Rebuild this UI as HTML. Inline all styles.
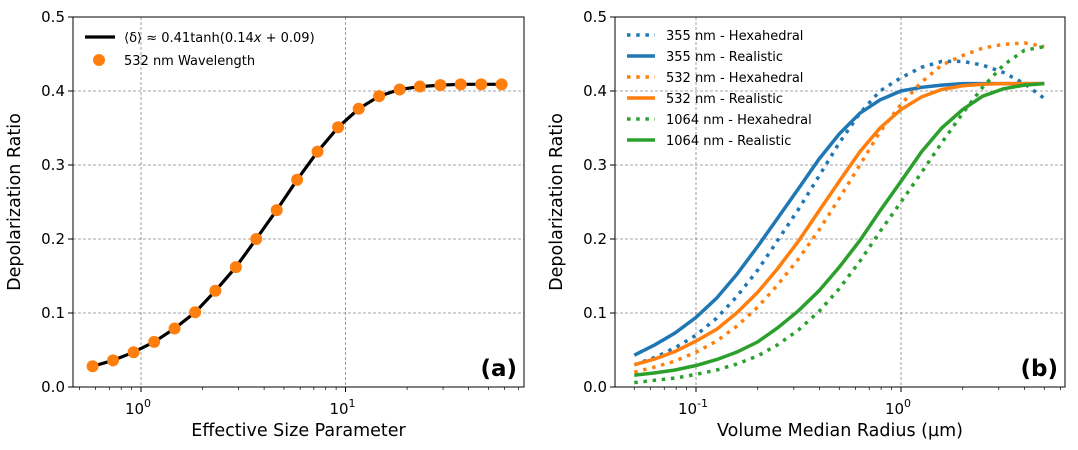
<!DOCTYPE html>
<html><head><meta charset="utf-8"><style>
html,body{margin:0;padding:0;background:#fff;}
svg{display:block;font-family:"DejaVu Sans","Liberation Sans",sans-serif;}
</style></head><body>
<svg id="c" width="1078" height="450" viewBox="0 0 1078 450"></svg>
<script>
// Left panel data
const leftX = [0.58,0.73,0.92,1.16,1.46,1.84,2.31,2.91,3.66,4.61,5.8,7.3,9.2,11.6,14.6,18.4,23.1,29.1,36.6,46.1,58];
const leftY = [0.028,0.036,0.047,0.061,0.079,0.101,0.130,0.162,0.200,0.239,0.280,0.318,0.351,0.376,0.393,0.402,0.406,0.408,0.409,0.409,0.409];
// Right panel data
const rightX = [0.05,0.063,0.079,0.1,0.126,0.158,0.2,0.25,0.316,0.398,0.5,0.63,0.79,1.0,1.26,1.58,2.0,2.5,3.16,4.0,5.0];
const hex355 = [0.030,0.040,0.053,0.070,0.093,0.122,0.158,0.198,0.240,0.285,0.330,0.370,0.400,0.418,0.432,0.440,0.440,0.435,0.425,0.410,0.390];
const real355 = [0.043,0.057,0.073,0.094,0.120,0.152,0.190,0.228,0.268,0.308,0.342,0.370,0.388,0.400,0.405,0.408,0.410,0.410,0.410,0.410,0.410];
const hex532 = [0.020,0.027,0.035,0.047,0.062,0.082,0.108,0.138,0.173,0.212,0.255,0.300,0.345,0.382,0.412,0.435,0.448,0.458,0.463,0.465,0.460];
const real532 = [0.030,0.038,0.048,0.062,0.078,0.100,0.128,0.160,0.197,0.238,0.278,0.318,0.350,0.375,0.392,0.402,0.407,0.409,0.410,0.410,0.410];
const hex1064 = [0.006,0.009,0.012,0.017,0.023,0.031,0.042,0.057,0.077,0.102,0.133,0.170,0.210,0.250,0.290,0.330,0.370,0.405,0.435,0.455,0.460];
const real1064 = [0.016,0.019,0.023,0.029,0.037,0.047,0.061,0.080,0.103,0.130,0.162,0.198,0.238,0.278,0.318,0.350,0.375,0.393,0.403,0.408,0.410];
const yTicks = [0,0.1,0.2,0.3,0.4,0.5];
const yTickLabels = ["0.0","0.1","0.2","0.3","0.4","0.5"];

const NS="http://www.w3.org/2000/svg";
const svg=document.getElementById('c');
function mk(tag,attrs,parent){const e=document.createElementNS(NS,tag);for(const k in attrs)e.setAttribute(k,attrs[k]);(parent||svg).appendChild(e);return e;}

const T=17,B=387;
function yS(v){return B-(v/0.5)*(B-T);}
const panels=[
 {L:73,R:524,x0:141,dec:204.5,d0:0,minD:-1,maxD:2,label:"Effective Size Parameter",tag:"(a)",name:"panel-a"},
 {L:615,R:1065,x0:901,dec:205,d0:0,minD:-2,maxD:1,label:"Volume Median Radius (\u00b5m)",tag:"(b)",name:"panel-b"}
];
function xS(p,v){return p.x0+Math.log10(v)*p.dec;}

panels.forEach((p,pi)=>{
 const g=mk('g',{});
 
 
 // grid
 yTicks.forEach(v=>{if(v>0&&v<0.5){const l=mk('line',{x1:p.L,x2:p.R,y1:yS(v),y2:yS(v),stroke:'#888','stroke-width':0.8,'stroke-dasharray':'3,2'},g);}});
 for(let d=p.minD;d<=p.maxD;d++){const x=p.x0+d*p.dec;if(x>p.L&&x<p.R){const l=mk('line',{x1:x,x2:x,y1:T,y2:B,stroke:'#888','stroke-width':0.8,'stroke-dasharray':'3,2'},g);}}
 // x ticks
 for(let d=p.minD;d<=p.maxD;d++){
  for(let m=1;m<10;m++){
   const x=p.x0+(d+Math.log10(m))*p.dec;
   if(x<p.L-0.5||x>p.R+0.5)continue;
   mk('line',{x1:x,x2:x,y1:B,y2:B+(m==1?5:3),stroke:'#000','stroke-width':m==1?1:0.7},g);
   if(m==1){
    const t=mk('text',{x:x-3,y:B+27,'font-size':15,'text-anchor':'middle'},g);
    t.textContent='10';
    const s=mk('tspan',{dy:-7,'font-size':11},t);s.textContent=String(d);
    
   }
  }
 }
 // y ticks
 yTicks.forEach((v,i)=>{
  mk('line',{x1:p.L-5,x2:p.L,y1:yS(v),y2:yS(v),stroke:'#000','stroke-width':1},g);
  const t=mk('text',{x:p.L-8,y:yS(v)+5,'font-size':15,'text-anchor':'end'},g);
  t.textContent=yTickLabels[i];
  
 });
 const xl=mk('text',{x:(p.L+p.R)/2,y:436,'font-size':17.5,'text-anchor':'middle'},g);
 xl.textContent=p.label;
 
 const yl=mk('text',{x:0,y:0,'font-size':17.5,'text-anchor':'middle',transform:`translate(${p.L-53},${(T+B)/2}) rotate(-90)`},g);
 yl.textContent='Depolarization Ratio';
 
 const tg=mk('text',{x:p.R-7,y:B-11,'font-size':23,'font-weight':'bold','text-anchor':'end'},g);
 tg.textContent=p.tag;
 
 p.g=g;
});

function pathD(p,xs,ys){return xs.map((x,i)=>(i?'L':'M')+xS(p,x).toFixed(1)+','+yS(ys[i]).toFixed(1)).join(' ');}

// Left panel series
const pa=panels[0];
const fit=mk('path',{d:pathD(pa,leftX,leftY),fill:'none',stroke:'#000','stroke-width':3.2},pa.g);

leftX.forEach((x,i)=>{
 const c=mk('circle',{cx:xS(pa,x),cy:yS(leftY[i]),r:6,fill:'#ff7f0e'},pa.g);
 
});

// Right panel series
const pb=panels[1];
const series=[
 {ys:hex355,c:'#1f77b4',dash:true,n:'355 nm - Hexahedral'},
 {ys:real355,c:'#1f77b4',dash:false,n:'355 nm - Realistic'},
 {ys:hex532,c:'#ff7f0e',dash:true,n:'532 nm - Hexahedral'},
 {ys:real532,c:'#ff7f0e',dash:false,n:'532 nm - Realistic'},
 {ys:hex1064,c:'#2ca02c',dash:true,n:'1064 nm - Hexahedral'},
 {ys:real1064,c:'#2ca02c',dash:false,n:'1064 nm - Realistic'}
];
series.forEach((s,i)=>{
 const a={d:pathD(pb,rightX,s.ys),fill:'none',stroke:s.c,'stroke-width':3.5};
 if(s.dash)a['stroke-dasharray']='3.5,5.7';
 const l=mk('path',a,pb.g);
 
 // legend
 const ly=35+i*21;
 const la={x1:627,x2:655,y1:ly,y2:ly,stroke:s.c,'stroke-width':3.5};
 if(s.dash)la['stroke-dasharray']='3.5,5.7';
 const ll=mk('line',la,pb.g);
 
 const lt=mk('text',{x:666,y:ly+5,'font-size':13},pb.g);
 lt.textContent=s.n;
 
});

// Left legend
const l1=mk('line',{x1:85,x2:115,y1:37,y2:37,stroke:'#000','stroke-width':3.2},pa.g);

const t1=mk('text',{x:124,y:42,'font-size':13},pa.g);
t1.textContent='\u27e8\u03b4\u27e9 \u2248 0.41tanh(0.14';
const ti=mk('tspan',{'font-style':'italic'},t1);ti.textContent='x';
const tr=mk('tspan',{},t1);tr.textContent=' + 0.09)';

const c1=mk('circle',{cx:99,cy:60,r:6,fill:'#ff7f0e'},pa.g);

const t2=mk('text',{x:124,y:65,'font-size':13},pa.g);
t2.textContent='532 nm Wavelength';


// frames
panels.forEach(p=>{
 const r=mk('rect',{x:p.L,y:T,width:p.R-p.L,height:B-T,fill:'none',stroke:'#000','stroke-width':1},p.g);
 
});
</script>
</body></html>
